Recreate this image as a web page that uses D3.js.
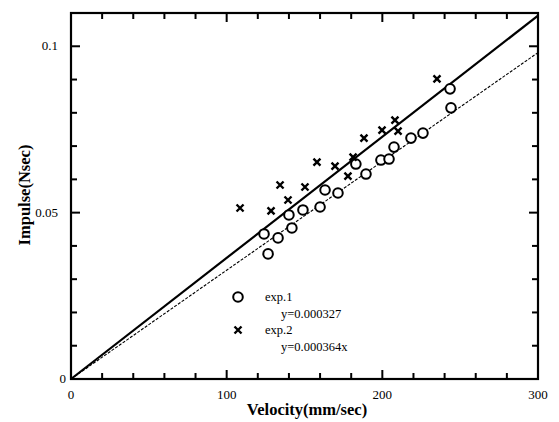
<!DOCTYPE html>
<html>
<head>
<meta charset="utf-8">
<script src="https://cdn.jsdelivr.net/npm/d3@7"></script>
<style>
  body { margin: 0; background: #fff; }
  svg { display: block; }
</style>
</head>
<body>
<svg id="chart" width="559" height="422"></svg>
<script>
// exp.1 (circles)
const exp1Velocity = [124.0, 126.6, 133.0, 140.0, 141.9, 149.0, 160.0, 163.2, 171.5, 183.0, 189.5, 199.1, 204.3, 207.5, 218.4, 226.1, 243.5, 244.1];
const exp1Impulse  = [0.0436, 0.0376, 0.0424, 0.0493, 0.0454, 0.0508, 0.0517, 0.0568, 0.0559, 0.0646, 0.0616, 0.0658, 0.0661, 0.0697, 0.0724, 0.0739, 0.0872, 0.0815];
// exp.2 (crosses)
const exp2Velocity = [108.6, 128.5, 134.3, 139.4, 150.3, 158.0, 169.6, 177.9, 181.2, 188.2, 199.8, 208.1, 210.1, 235.1];
const exp2Impulse  = [0.0514, 0.0505, 0.0583, 0.0538, 0.0577, 0.0652, 0.0640, 0.0610, 0.0667, 0.0724, 0.0748, 0.0778, 0.0745, 0.0902];
// fitted slopes
const slope1 = 0.000327;
const slope2 = 0.000364;
const xTickLabels = [0, 100, 200, 300];
const yTickLabels = [0, 0.05, 0.1];

const svg = d3.select('#chart');
const plotLeft = 71, plotRight = 538, plotTop = 13, plotBottom = 379;

const x = d3.scaleLinear().domain([0, 300]).range([plotLeft, plotRight]);
const y = d3.scaleLinear().domain([0, 0.11]).range([plotBottom, plotTop]);

const serif = '"Liberation Serif", "DejaVu Serif", serif';

// fit lines
svg.append('path')
    .attr('d', d3.line()([[x(0), y(0)], [x(300), y(slope2 * 300)]]))
    .attr('stroke', '#000').attr('stroke-width', 2.2).attr('fill', 'none');
svg.append('path')
    .attr('d', d3.line()([[x(0), y(0)], [x(300), y(slope1 * 300)]]))
    .attr('stroke', '#000').attr('stroke-width', 1.1)
    .attr('stroke-dasharray', '3,1.5').attr('fill', 'none');

// frame
svg.append('rect')
    .attr('x', plotLeft).attr('y', plotTop)
    .attr('width', plotRight - plotLeft).attr('height', plotBottom - plotTop)
    .attr('fill', 'none').attr('stroke', '#000').attr('stroke-width', 2.2);

// ticks, inward, on all four sides
const xt = d3.range(20, 300, 20);
xt.forEach(function (v) {
    var len = (v % 100 === 0) ? 9 : 6;
    svg.append('line').attr('x1', x(v)).attr('x2', x(v)).attr('y1', plotBottom).attr('y2', plotBottom - len)
        .attr('stroke', '#000').attr('stroke-width', 2);
    svg.append('line').attr('x1', x(v)).attr('x2', x(v)).attr('y1', plotTop).attr('y2', plotTop + len)
        .attr('stroke', '#000').attr('stroke-width', 2);
});
const yt = d3.range(1, 11).map(function (i) { return i * 0.01; });
yt.forEach(function (v, i) {
    var len = ((i + 1) % 5 === 0) ? 9 : 6;
    svg.append('line').attr('x1', plotLeft).attr('x2', plotLeft + len).attr('y1', y(v)).attr('y2', y(v))
        .attr('stroke', '#000').attr('stroke-width', 2);
    svg.append('line').attr('x1', plotRight).attr('x2', plotRight - len).attr('y1', y(v)).attr('y2', y(v))
        .attr('stroke', '#000').attr('stroke-width', 2);
});

// tick labels
svg.selectAll('.xl').data(xTickLabels).enter().append('text')
    .attr('x', function (d) { return x(d); })
    .attr('y', 399)
    .attr('text-anchor', 'middle')
    .attr('font-family', serif).attr('font-size', 13)
    .text(function (d) { return d; });
svg.selectAll('.yl').data(yTickLabels).enter().append('text')
    .attr('x', function (d) { return d === 0 ? 66 : 58; })
    .attr('y', function (d) { return y(d) + 4; })
    .attr('text-anchor', 'end')
    .attr('font-family', serif).attr('font-size', 13)
    .text(function (d) { return d; });

// axis titles
svg.append('text')
    .attr('x', 307).attr('y', 415)
    .attr('text-anchor', 'middle')
    .attr('font-family', serif).attr('font-weight', 'bold').attr('font-size', 16.5)
    .text('Velocity(mm/sec)');
svg.append('text')
    .attr('transform', 'translate(30,195) rotate(-90)')
    .attr('text-anchor', 'middle')
    .attr('font-family', serif).attr('font-weight', 'bold').attr('font-size', 16.5)
    .text('Impulse(Nsec)');

// exp.1 circles
const pts1 = exp1Velocity.map(function (v, i) { return [v, exp1Impulse[i]]; });
svg.selectAll('.c1').data(pts1).enter().append('circle')
    .attr('cx', function (d) { return x(d[0]); })
    .attr('cy', function (d) { return y(d[1]); })
    .attr('r', 4.8)
    .attr('fill', '#fff').attr('stroke', '#000').attr('stroke-width', 2);

// exp.2 crosses
const cross = 'M-3.5,-3.5L3.5,3.5M3.5,-3.5L-3.5,3.5';
const pts2 = exp2Velocity.map(function (v, i) { return [v, exp2Impulse[i]]; });
svg.selectAll('.c2').data(pts2).enter().append('path')
    .attr('transform', function (d) { return 'translate(' + x(d[0]) + ',' + y(d[1]) + ')'; })
    .attr('d', cross)
    .attr('stroke', '#000').attr('stroke-width', 2.4).attr('fill', 'none');

// legend
svg.append('circle').attr('cx', 238).attr('cy', 297).attr('r', 4.8)
    .attr('fill', '#fff').attr('stroke', '#000').attr('stroke-width', 2);
svg.append('path').attr('transform', 'translate(238,330)').attr('d', cross)
    .attr('stroke', '#000').attr('stroke-width', 2.4).attr('fill', 'none');
const legendText = [
    { t: 'exp.1', x: 265, y: 301 },
    { t: 'y=0.000327', x: 281, y: 318 },
    { t: 'exp.2', x: 265, y: 334 },
    { t: 'y=0.000364x', x: 281, y: 351 }
];
svg.selectAll('.lg').data(legendText).enter().append('text')
    .attr('x', function (d) { return d.x; })
    .attr('y', function (d) { return d.y; })
    .attr('font-family', serif).attr('font-size', 12.5)
    .text(function (d) { return d.t; });
</script>
</body>
</html>
